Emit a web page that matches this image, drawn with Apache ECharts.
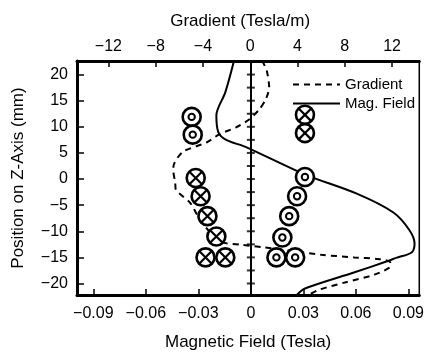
<!DOCTYPE html>
<html>
<head>
<meta charset="utf-8">
<script src="https://cdn.jsdelivr.net/npm/echarts@6/dist/echarts.min.js"></script>
<style>
  html, body { margin: 0; padding: 0; background: #fff; }
  #chart { width: 427px; height: 359px; }
</style>
</head>
<body>
<div id="chart"></div>
<script>
// tick labels
const fieldTicks = [-0.09, -0.06, -0.03, 0, 0.03, 0.06, 0.09];
const gradTicks = [-12, -8, -4, 0, 4, 8, 12];
const zTicks = [-20, -15, -10, -5, 0, 5, 10, 15, 20];
// small marks along the centre line (mm)
const rulerZ = [20, 17.5, 15, 12.5, 10, 7.5, 5, 2.5, 0, -2.5, -5, -7.5, -10, -12.5, -15, -17.5, -20];

// [field (T), z (mm)]
const magField = [
  [-0.0095, 22.8], [-0.0146, 16.6], [-0.0197, 12.2], [-0.0186, 9.0], [-0.0141, 7.5],
  [-0.0034, 6.2], [0.031, 0.86], [0.0605, -2.8], [0.0814, -6.4], [0.0904, -9.7],
  [0.0935, -12.3], [0.092, -14.0], [0.083, -15.1], [0.0774, -15.8], [0.0588, -17.9],
  [0.0306, -21], [0.026, -22.3]
];
// [gradient (T/m), z (mm)]
const gradient = [
  [1.0, 22.7], [1.4, 20.7], [1.6, 17.5], [1.3, 15.2], [0.75, 13.3], [-0.1, 11.4], [-1.2, 9.9],
  [-2.6, 8.6], [-3.7, 7.0], [-5.7, 5.2], [-6.5, 2.4], [-6.5, 1.4], [-6.35, -0.7], [-6.3, -2.0],
  [-5.1, -4.5], [-4.25, -7.8], [-3.4, -10.2], [-2.6, -12.0], [-0.7, -12.6], [1.2, -13.1],
  [3.3, -13.7], [6.0, -14.5], [8.8, -15.0], [10.8, -15.3], [11.8, -15.8], [11.9, -16.6],
  [10.5, -18.3], [8.0, -19.8], [5.8, -21.2], [4.9, -22.2]
];
// coil positions [field, z]
const coilsOut = [
  [-0.0338, 11.9], [-0.0332, 8.5],
  [0.0309, 0.4], [0.0264, -3.3], [0.0219, -7.1], [0.018, -11.2], [0.0146, -15], [0.0253, -15]
];
const coilsIn = [
  [0.0309, 12.3], [0.0309, 8.8],
  [-0.0315, 0.2], [-0.0287, -3.3], [-0.0248, -7.1], [-0.0197, -11], [-0.0259, -15], [-0.0146, -15]
];

const font = 'Liberation Sans';
const minus = (v) => String(v).replace('-', '\u2212');

function coilItem(kind) {
  return (params, api) => {
    const p = api.coord([api.value(0), api.value(1)]);
    const cx = p[0], cy = p[1];
    const children = [{
      type: 'circle',
      shape: { cx: cx, cy: cy, r: 9 },
      style: { fill: '#fff', stroke: '#000', lineWidth: 2.6 }
    }];
    if (kind === 'out') {
      children.push({
        type: 'circle',
        shape: { cx: cx, cy: cy, r: 3.2 },
        style: { fill: '#fff', stroke: '#000', lineWidth: 2 }
      });
    } else {
      const d = 6.3;
      children.push({ type: 'line', shape: { x1: cx - d, y1: cy - d, x2: cx + d, y2: cy + d }, style: { stroke: '#000', lineWidth: 2.2 } });
      children.push({ type: 'line', shape: { x1: cx - d, y1: cy + d, x2: cx + d, y2: cy - d }, style: { stroke: '#000', lineWidth: 2.2 } });
    }
    return { type: 'group', children: children };
  };
}

const myChart = echarts.init(document.getElementById('chart'), null, { renderer: 'canvas' });

const option = {
  backgroundColor: '#fff',
  animation: false,
  textStyle: { fontFamily: font, color: '#000' },
  grid: {
    left: 77, right: 4, top: 61, bottom: 64,
    show: true, borderColor: '#000', borderWidth: 1.5, backgroundColor: 'transparent'
  },
  legend: {
    orient: 'vertical',
    left: 287,
    top: 72,
    itemWidth: 47,
    itemHeight: 14,
    itemGap: 4,
    itemStyle: { opacity: 0 },
    data: ['Gradient', 'Mag. Field'],
    textStyle: { fontFamily: font, fontSize: 15, color: '#000' }
  },
  xAxis: [
    {
      type: 'value',
      position: 'bottom',
      min: -0.0993,
      max: 0.0962,
      name: 'Magnetic Field (Tesla)',
      nameLocation: 'middle',
      nameGap: 39,
      nameTextStyle: { fontFamily: font, fontSize: 17, color: '#000' },
      splitLine: { show: false },
      axisLine: { onZero: false, lineStyle: { color: '#000', width: 3 } },
      axisTick: { inside: true, length: 6, customValues: fieldTicks, lineStyle: { color: '#000', width: 1.5 } },
      axisLabel: { customValues: fieldTicks, margin: 11, fontSize: 16, color: '#000', formatter: minus }
    },
    {
      type: 'value',
      position: 'top',
      min: -14.66,
      max: 14.3,
      name: 'Gradient (Tesla/m)',
      nameLocation: 'middle',
      nameGap: 31,
      nameTextStyle: { fontFamily: font, fontSize: 17, color: '#000', padding: [0, 16, 0, 0] },
      splitLine: { show: false },
      axisLine: { onZero: false, lineStyle: { color: '#000', width: 3 } },
      axisTick: { inside: true, length: 6, customValues: gradTicks, lineStyle: { color: '#000', width: 1.5 } },
      axisLabel: { customValues: gradTicks, margin: 6, fontSize: 16, color: '#000', formatter: minus }
    }
  ],
  yAxis: {
    type: 'value',
    min: -22.2,
    max: 22.6,
    name: 'Position on Z-Axis (mm)',
    nameLocation: 'middle',
    nameGap: 50,
    nameTextStyle: { fontFamily: font, fontSize: 17, color: '#000' },
    splitLine: { show: false },
    axisLine: { onZero: false, lineStyle: { color: '#000', width: 3 } },
    axisTick: { inside: true, length: 7, customValues: zTicks, lineStyle: { color: '#000', width: 1.5 } },
    axisLabel: { customValues: zTicks, margin: 9, fontSize: 16, color: '#000', formatter: minus }
  },
  series: [
    {
      name: 'ruler',
      type: 'scatter',
      xAxisIndex: 0,
      symbol: 'rect',
      symbolSize: [8, 2],
      itemStyle: { color: '#000' },
      data: rulerZ.map((z) => [0, z]),
      silent: true,
      markLine: {
        silent: true,
        symbol: 'none',
        label: { show: false },
        lineStyle: { color: '#000', width: 2, type: 'solid' },
        data: [{ xAxis: 0 }]
      },
      z: 3
    },
    {
      name: 'Gradient',
      type: 'line',
      xAxisIndex: 1,
      data: gradient,
      smooth: 0.25,
      symbol: 'none',
      lineStyle: { color: '#000', width: 2, type: [6, 5] },
      itemStyle: { color: '#000' },
      z: 4
    },
    {
      name: 'Mag. Field',
      type: 'line',
      xAxisIndex: 0,
      data: magField,
      smooth: 0.3,
      symbol: 'none',
      lineStyle: { color: '#000', width: 2 },
      itemStyle: { color: '#000' },
      z: 4
    },
    {
      name: 'coils out',
      type: 'custom',
      xAxisIndex: 0,
      renderItem: coilItem('out'),
      data: coilsOut,
      z: 6
    },
    {
      name: 'coils in',
      type: 'custom',
      xAxisIndex: 0,
      renderItem: coilItem('in'),
      data: coilsIn,
      z: 6
    }
  ]
};

myChart.setOption(option);
</script>
</body>
</html>
